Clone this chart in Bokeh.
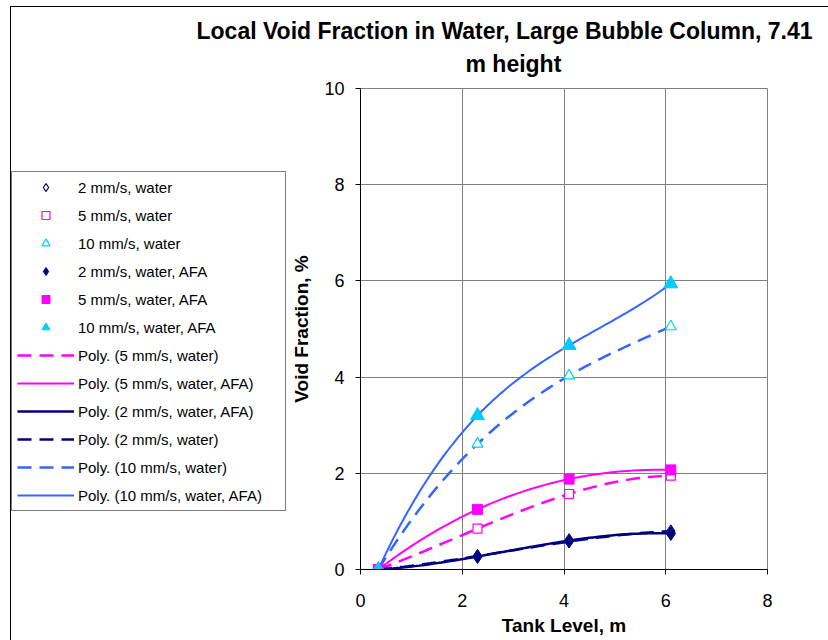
import numpy as np
from bokeh.plotting import figure
from bokeh.layouts import column, row
from bokeh.models import Range1d, Legend, LegendItem, FixedTicker, Title
from bokeh.embed import file_html
from bokeh.resources import INLINE

# Data
tank_level = [0.35, 2.3, 4.1, 6.1]
water_2 = [0.0, 0.28, 0.58, 0.80]
water_5 = [0.0, 0.85, 1.57, 1.95]
water_10 = [0.0, 2.61, 4.03, 5.05]
afa_2 = [0.0, 0.27, 0.60, 0.75]
afa_5 = [0.0, 1.25, 1.88, 2.07]
afa_10 = [0.0, 3.20, 4.66, 5.94]

x_ticks = [0, 2, 4, 6, 8]
y_ticks = [0, 2, 4, 6, 8, 10]

title_line1 = "Local Void Fraction in Water, Large Bubble Column, 7.41"
title_line2 = "m height"

NAVY = "#000080"
MAG = "#FF00FF"
CYAN = "#00CCFF"
BLUE = "#3366FF"
FONT = "Liberation Sans"
DASH = "14 8"

TOTAL_W, TOTAL_H = 817, 633
TITLE_H = 70
LEG_W = 277
PH = TOTAL_H - TITLE_H
MB_TOP, MB_BOTTOM = 11, 71

# ---------- title strip ----------
tf = figure(width=TOTAL_W, height=TITLE_H, output_backend="svg", toolbar_location=None,
            x_axis_location=None, y_axis_location=None,
            x_range=Range1d(0, 1), y_range=Range1d(0, 1),
            min_border_left=0, min_border_right=0, min_border_top=69, min_border_bottom=0)
tf.grid.visible = False
tf.outline_line_color = None
tf.title.text = title_line1
tf.title.align = "left"
tf.title.offset = 185
tf.title.standoff = 9
tf.title.text_font = FONT
tf.title.text_font_size = "23px"
tf.title.text_font_style = "bold"
tf.title.text_color = "black"
tf.add_layout(Title(text=title_line2, align="left", offset=454, standoff=0,
                    text_font=FONT, text_font_size="23px", text_font_style="bold",
                    text_color="black"), "above")

# ---------- main plot ----------
p = figure(width=TOTAL_W - LEG_W, height=PH, output_backend="svg", toolbar_location=None,
           x_range=Range1d(0, 8), y_range=Range1d(0, 10),
           min_border_left=72, min_border_right=61, min_border_top=MB_TOP,
           min_border_bottom=MB_BOTTOM)

p.outline_line_color = "#808080"
p.outline_line_width = 1
p.background_fill_color = "white"
p.border_fill_color = "white"

for ax in (p.xaxis[0], p.yaxis[0]):
    ax.axis_line_color = "black"
    ax.major_tick_line_color = "black"
    ax.major_tick_out = 5
    ax.major_tick_in = 0
    ax.minor_tick_line_color = None
    ax.major_label_text_font = FONT
    ax.major_label_text_font_size = "18px"
    ax.major_label_text_color = "black"
    ax.axis_label_text_font = FONT
    ax.axis_label_text_font_size = "19px"
    ax.axis_label_text_font_style = "bold"
    ax.axis_label_text_color = "black"

p.xaxis.ticker = FixedTicker(ticks=x_ticks)
p.yaxis.ticker = FixedTicker(ticks=y_ticks)
p.xaxis.axis_label = "Tank Level, m"
p.yaxis.axis_label = "Void Fraction, %"
p.xaxis.major_label_standoff = 19
p.xaxis.axis_label_standoff = 5
p.yaxis.major_label_standoff = 11
p.yaxis.axis_label_standoff = 9

p.xgrid.grid_line_color = "#808080"
p.ygrid.grid_line_color = "#808080"

# polynomial trendlines fitted to each series
xs = np.linspace(tank_level[0], tank_level[-1], 80)
def trend(vals):
    c = np.polyfit(tank_level, vals, 3)
    return np.polyval(c, xs)

line_specs = [
    ("Poly. (5 mm/s, water)", water_5, MAG, 2.5, DASH),
    ("Poly. (5 mm/s, water, AFA)", afa_5, MAG, 2.0, "solid"),
    ("Poly. (2 mm/s, water, AFA)", afa_2, NAVY, 2.5, "solid"),
    ("Poly. (2 mm/s, water)", water_2, NAVY, 2.5, DASH),
    ("Poly. (10 mm/s, water)", water_10, BLUE, 2.5, DASH),
    ("Poly. (10 mm/s, water, AFA)", afa_10, BLUE, 2.0, "solid"),
]
marker_specs = [
    ("2 mm/s, water", water_2, dict(marker="diamond", size=12, fill_color="white", line_color=NAVY, line_width=1.2)),
    ("5 mm/s, water", water_5, dict(marker="square", size=9, fill_color="white", line_color=MAG, line_width=1.2)),
    ("10 mm/s, water", water_10, dict(marker="triangle", size=11, fill_color="white", line_color=CYAN, line_width=1.2)),
    ("2 mm/s, water, AFA", afa_2, dict(marker="diamond", size=14, fill_color=NAVY, line_color=NAVY)),
    ("5 mm/s, water, AFA", afa_5, dict(marker="square", size=10, fill_color=MAG, line_color=MAG)),
    ("10 mm/s, water, AFA", afa_10, dict(marker="triangle", size=14, fill_color=CYAN, line_color=CYAN)),
]

for label, vals, color, lw, dash in line_specs:
    p.line(xs, trend(vals), line_color=color, line_width=lw, line_dash=dash)
for label, vals, kw in marker_specs:
    p.scatter(tank_level, vals, **kw)

# ---------- legend panel (its own renderers lie outside its ranges) ----------
lf = figure(width=LEG_W, height=PH, output_backend="svg", toolbar_location=None,
            x_axis_location=None, y_axis_location=None,
            x_range=Range1d(100, 101), y_range=Range1d(100, 101),
            min_border_left=0, min_border_right=0, min_border_top=MB_TOP,
            min_border_bottom=MB_BOTTOM)
lf.grid.visible = False
lf.outline_line_color = None

items = []
for label, vals, kw in marker_specs:
    r = lf.scatter(tank_level, vals, **kw)
    items.append(LegendItem(label=label, renderers=[r]))
for label, vals, color, lw, dash in line_specs:
    r = lf.line(xs, trend(vals), line_color=color, line_width=lw, line_dash=dash)
    items.append(LegendItem(label=label, renderers=[r]))

legend = Legend(items=items, location=(0, 58))
legend.label_text_font = FONT
legend.label_text_font_size = "15px"
legend.label_text_color = "black"
legend.glyph_width = 57
legend.glyph_height = 20
legend.label_height = 20
legend.label_width = 202
legend.spacing = 8
legend.padding = 5
legend.margin = 0
legend.label_standoff = 4
legend.border_line_color = "black"
legend.border_line_width = 1
legend.background_fill_color = "white"
legend.background_fill_alpha = 1
lf.add_layout(legend, "center")

layout = column(tf, row(lf, p, spacing=0), spacing=0)
layout.styles = {"border-left": "1px solid black", "border-top": "1px solid black",
                 "margin-left": "10px", "margin-top": "6px"}

open("out.html", "w").write(file_html(layout, INLINE))
